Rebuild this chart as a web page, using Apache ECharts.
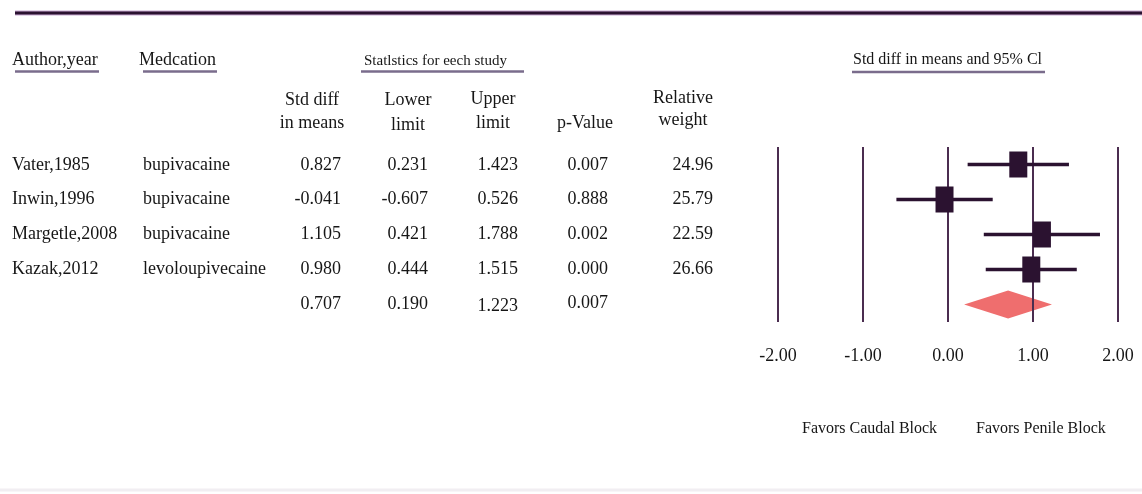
<!DOCTYPE html>
<html>
<head>
<meta charset="utf-8">
<script src="https://cdn.jsdelivr.net/npm/echarts@6/dist/echarts.min.js"></script>
<style>
  html, body { margin: 0; padding: 0; background: #fff; }
  #chart { width: 1142px; height: 494px; }
</style>
</head>
<body>
<div id="chart"></div>
<script>
// Study-level results
const authors = ['Vater,1985', 'Inwin,1996', 'Margetle,2008', 'Kazak,2012'];
const medications = ['bupivacaine', 'bupivacaine', 'bupivacaine', 'levoloupivecaine'];
const stdDiff = [0.827, -0.041, 1.105, 0.980];
const lowerLimit = [0.231, -0.607, 0.421, 0.444];
const upperLimit = [1.423, 0.526, 1.788, 1.515];
const pValues = ['0.007', '0.888', '0.002', '0.000'];
const relWeight = ['24.96', '25.79', '22.59', '26.66'];

// Pooled estimate: std diff, lower, upper
const pooled = [0.707, 0.190, 1.223];
const pooledP = '0.007';

// Axis ticks of the forest plot
const xTicks = [-2, -1, 0, 1, 2];

const rowNames = authors.concat(['Pooled']);

const SERIF = '"Liberation Serif", "Times New Roman", serif';
const INK = '#161616';
const DARK = '#2b1230';

const chart = echarts.init(document.getElementById('chart'), null, { renderer: 'canvas' });

// ---- table text -------------------------------------------------------
const g = [];
function txt(s, x, y, align, size) {
  g.push({
    type: 'text', x: x, y: y, silent: true,
    style: { text: s, fill: INK, font: (size || 18) + 'px ' + SERIF, align: align || 'left', verticalAlign: 'middle' }
  });
}
function hline(x1, x2, y, color, w) {
  g.push({
    type: 'line', silent: true,
    shape: { x1: x1, y1: y, x2: x2, y2: y },
    style: { stroke: color, lineWidth: w }
  });
}

// top rule
hline(15, 1142, 13, '#c9a9d2', 5);
hline(15, 1142, 13, DARK, 3);
// faint bottom rule
hline(0, 1142, 490, '#f1eef2', 3);

// section headings with underlines
txt('Author,year', 12, 60, 'left');
hline(15, 99, 71.5, '#7a6c8c', 2.5);
txt('Medcation', 139, 60, 'left');
hline(143, 217, 71.5, '#7a6c8c', 2.5);
txt('Statlstics for eech study', 364, 61, 'left', 15);
hline(361, 524, 71.5, '#7a6c8c', 2.5);
txt('Std diff in means and 95% Cl', 853, 60, 'left', 16);
hline(852, 1045, 72, '#7a6c8c', 2.5);

// column headings
txt('Std diff', 312, 100, 'center');
txt('in means', 312, 123, 'center');
txt('Lower', 408, 100, 'center');
txt('limit', 408, 125, 'center');
txt('Upper', 493, 99, 'center');
txt('limit', 493, 123, 'center');
txt('p-Value', 585, 123, 'center');
txt('Relative', 683, 98, 'center');
txt('weight', 683, 120, 'center');

// study rows
const rowY = i => 165 + i * 34.7;
for (let i = 0; i < authors.length; i++) {
  const y = rowY(i);
  txt(authors[i], 12, y, 'left');
  txt(medications[i], 143, y, 'left');
  txt(stdDiff[i].toFixed(3), 341, y, 'right');
  txt(lowerLimit[i].toFixed(3), 428, y, 'right');
  txt(upperLimit[i].toFixed(3), 518, y, 'right');
  txt(pValues[i], 608, y, 'right');
  txt(relWeight[i], 713, y, 'right');
}
// pooled row
const py = rowY(4);
txt(pooled[0].toFixed(3), 341, py, 'right');
txt(pooled[1].toFixed(3), 428, py, 'right');
txt(pooled[2].toFixed(3), 518, py + 2, 'right');
txt(pooledP, 608, py - 1, 'right');

// direction captions
txt('Favors Caudal Block', 802, 429, 'left', 16);
txt('Favors Penile Block', 976, 429, 'left', 16);

// ---- forest plot -------------------------------------------------------
const studyData = stdDiff.map((v, i) => [v, lowerLimit[i], upperLimit[i], i]);
const pooledData = [[pooled[0], pooled[1], pooled[2], 4]];

chart.setOption({
  animation: false,
  backgroundColor: '#fff',
  grid: { left: 778, width: 340, top: 147, height: 175, containLabel: false },
  xAxis: {
    type: 'value', min: -2, max: 2, interval: 1, z: 3,
    axisLine: { show: false },
    axisTick: { show: false },
    splitLine: { show: true, lineStyle: { color: '#4b2d50', width: 2 } },
    axisLabel: {
      margin: 25, color: INK, fontSize: 18, fontFamily: SERIF,
      customValues: xTicks,
      formatter: v => v.toFixed(2)
    }
  },
  yAxis: {
    type: 'category', data: rowNames, inverse: true, boundaryGap: true,
    axisLine: { show: false }, axisTick: { show: false },
    axisLabel: { show: false }, splitLine: { show: false }
  },
  series: [
    {
      name: 'pooled', type: 'custom', z: 1,
      encode: { x: [0, 1, 2], y: 3 },
      data: pooledData,
      renderItem: function (params, api) {
        const row = api.value(3);
        const c = api.coord([api.value(0), row]);
        const l = api.coord([api.value(1), row]);
        const u = api.coord([api.value(2), row]);
        const h = 14;
        return {
          type: 'polygon',
          shape: { points: [[l[0], c[1]], [c[0], c[1] - h], [u[0], c[1]], [c[0], c[1] + h]] },
          style: { fill: '#ef6e6e' }
        };
      }
    },
    {
      name: 'studies', type: 'custom', z: 5,
      encode: { x: [0, 1, 2], y: 3 },
      data: studyData,
      renderItem: function (params, api) {
        const row = api.value(3);
        const c = api.coord([api.value(0), row]);
        const l = api.coord([api.value(1), row]);
        const u = api.coord([api.value(2), row]);
        const w = 18, h = 26;
        return {
          type: 'group',
          children: [
            { type: 'line', shape: { x1: l[0], y1: c[1], x2: u[0], y2: c[1] }, style: { stroke: DARK, lineWidth: 3.5 } },
            { type: 'rect', shape: { x: c[0] - w / 2, y: c[1] - h / 2, width: w, height: h }, style: { fill: DARK } }
          ]
        };
      }
    }
  ],
  graphic: { elements: g }
});
</script>
</body>
</html>
